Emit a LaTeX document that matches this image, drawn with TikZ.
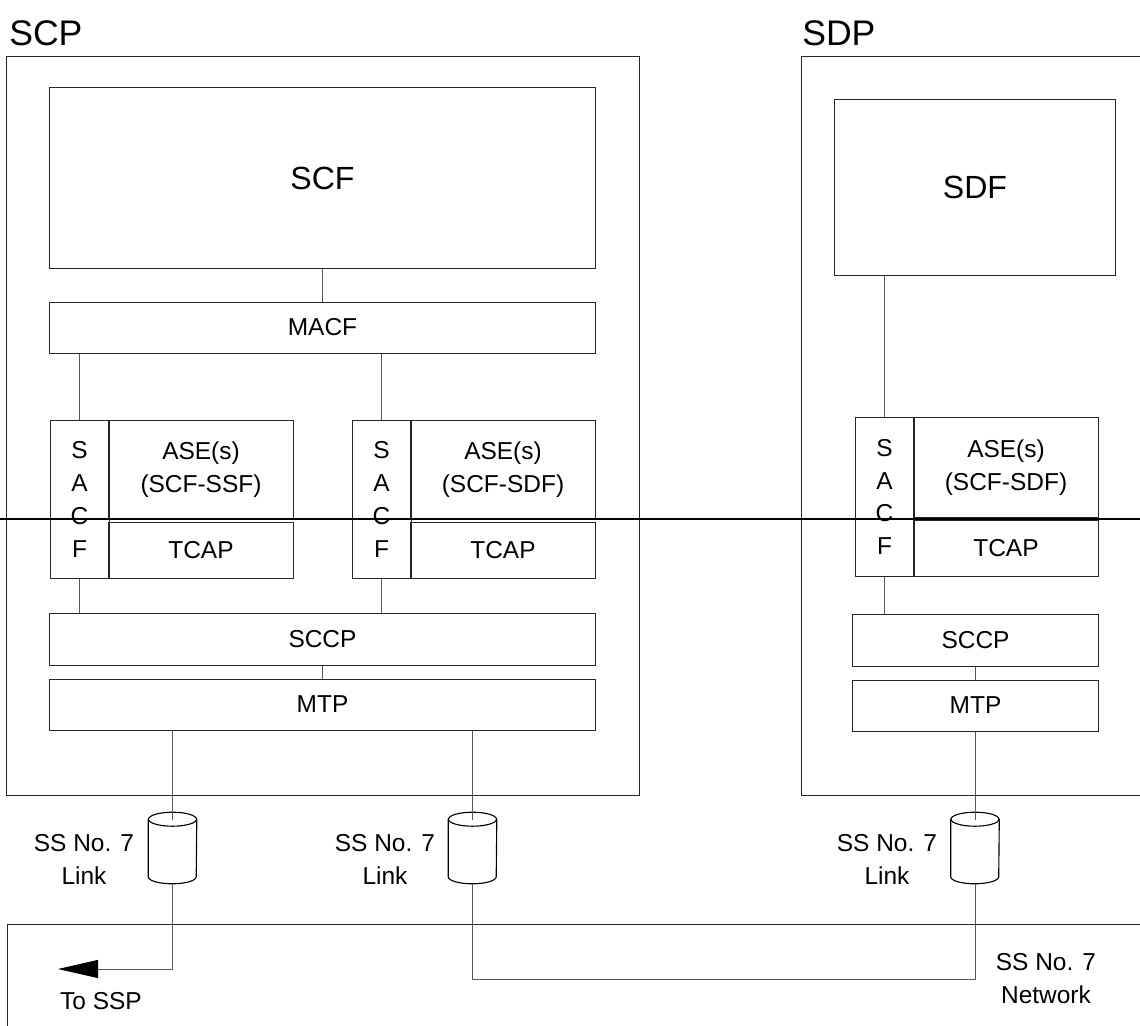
\documentclass[tikz,border=0pt]{standalone}
\usepackage{fontspec}
\setmainfont{Liberation Sans}
\usetikzlibrary{arrows.meta}

% cylinder drawn round an (invisible) node
\newcommand{\drumat}[1]{%
    \draw[drumline] ([yshift=-0.175cm]#1.north) ellipse [x radius=0.6cm,y radius=0.175cm];
    \draw[drumline] ([yshift=-0.175cm]#1.north west) -- ([yshift=0.175cm]#1.south west)
        arc [start angle=180,end angle=360,x radius=0.6cm,y radius=0.175cm]
        -- ([yshift=-0.175cm]#1.north east);
}

\begin{document}
\begin{tikzpicture}[x=0.025cm,y=-0.025cm,
    box/.style={shape=rectangle,draw=black!85,line width=0.7pt,inner sep=0pt,align=center,
        font=\fontsize{17.4}{23.4}\selectfont},
    link/.style={draw=black!65,line width=0.7pt},
    drum/.style={shape=rectangle,inner sep=0pt,minimum width=1.2cm,minimum height=1.775cm},
    drumline/.style={draw=black,line width=0.8pt},
    lbl/.style={align=center,inner sep=0pt,font=\fontsize{17.4}{23.4}\selectfont}]
    \useasboundingbox (0,0) rectangle (1140,1026);
    % containers
    \node[box,minimum width=15.8cm,minimum height=18.45cm] (scp) at (323,426) {};
    \node[box,minimum width=8.95cm,minimum height=18.45cm] (sdp) at (981,426) {};
    \node[box,minimum width=28.8cm,minimum height=2.9cm] (net) at (584,982) {};
    \node[anchor=base west,inner sep=0pt,font=\fontsize{25.3}{30}\selectfont] (scplbl) at (9,46) {SCP};
    \node[anchor=base west,inner sep=0pt,font=\fontsize{25.3}{30}\selectfont] (sdplbl) at (802,46) {SDP};
    % SCP stack
    \node[box,minimum width=13.625cm,minimum height=4.5cm,font=\fontsize{22.8}{27}\selectfont] (scf) at (322.5,178) {SCF};
    \node[box,minimum width=13.625cm,minimum height=1.275cm] (macf) at (322.5,327.5) {MACF};
    \node[box,minimum width=1.475cm,minimum height=3.925cm] (sacfA) at (79.5,499.5) {S\\A\\C\\F};
    \node[box,minimum width=4.6cm,minimum height=2.45cm] (aseA) at (201,470) {ASE(s)\\(SCF-SSF)};
    \node[box,minimum width=4.6cm,minimum height=1.4cm] (tcapA) at (201,550) {TCAP};
    \node[box,minimum width=1.475cm,minimum height=3.925cm] (sacfB) at (381.5,499.5) {S\\A\\C\\F};
    \node[box,minimum width=4.6cm,minimum height=2.45cm] (aseB) at (503,470) {ASE(s)\\(SCF-SDF)};
    \node[box,minimum width=4.6cm,minimum height=1.4cm] (tcapB) at (503,550) {TCAP};
    \node[box,minimum width=13.625cm,minimum height=1.3cm] (sccp) at (322.5,639) {SCCP};
    \node[box,minimum width=13.625cm,minimum height=1.275cm] (mtp) at (322.5,704.5) {MTP};
    % SDP stack
    \node[box,minimum width=7cm,minimum height=4.375cm,font=\fontsize{22.8}{27}\selectfont] (sdf) at (975,187.5) {SDF};
    \node[box,minimum width=1.475cm,minimum height=3.95cm] (sacfC) at (884.5,497) {S\\A\\C\\F};
    \node[box,minimum width=4.6cm,minimum height=2.475cm] (aseC) at (1006,467.5) {ASE(s)\\(SCF-SDF)};
    \node[box,minimum width=4.6cm,minimum height=1.4cm] (tcapC) at (1006,548) {TCAP};
    \node[box,minimum width=6.125cm,minimum height=1.3cm] (sccpC) at (975.5,640) {SCCP};
    \node[box,minimum width=6.125cm,minimum height=1.275cm] (mtpC) at (975.5,705.5) {MTP};
    % links
    \node[drum] (cylA) at (172.5,848) {};
    \node[drum] (cylB) at (472.5,848) {};
    \node[drum] (cylC) at (975,848) {};
    \drumat{cylA}
    \drumat{cylB}
    \drumat{cylC}
    \node[lbl] (linkA) at (84,859) {SS No. 7\\Link};
    \node[lbl] (linkB) at (385,859) {SS No. 7\\Link};
    \node[lbl] (linkC) at (887,859) {SS No. 7\\Link};
    \node[lbl] (toSSP) at (101,1001) {To SSP};
    \node[lbl] (netlbl) at (1046,979) {SS No. 7\\Network};
    \coordinate (ssp) at (58,969);
    \coordinate (netB) at (975,979);
    \draw[link] (scf) -- (macf);
    \draw[link] (sacfA.north) -- (sacfA.north |- macf.south);
    \draw[link] (sacfB.north) -- (sacfB.north |- macf.south);
    \draw[link] (sacfA.south) -- (sacfA.south |- sccp.north);
    \draw[link] (sacfB.south) -- (sacfB.south |- sccp.north);
    \draw[link] (sccp) -- (mtp);
    \draw[link] (sdf.south -| sacfC.north) -- (sacfC.north);
    \draw[link] (sacfC.south) -- (sacfC.south |- sccpC.north);
    \draw[link] (sccpC) -- (mtpC);
    \draw[link] (cylA.north |- mtp.south) -- ([yshift=-0.2cm]cylA.north);
    \draw[link] (cylB.north |- mtp.south) -- ([yshift=-0.2cm]cylB.north);
    \draw[link] (cylC.north |- mtpC.south) -- ([yshift=-0.2cm]cylC.north);
    \draw[link,-{Triangle[length=1.0cm,width=0.45cm,color=black]}] (cylA.south) |- (ssp);
    \draw[link] (cylB.south) |- (netB) -- (cylC.south);
    \draw[line width=1pt] (0,519) -- (1140,519);
\end{tikzpicture}
\end{document}
